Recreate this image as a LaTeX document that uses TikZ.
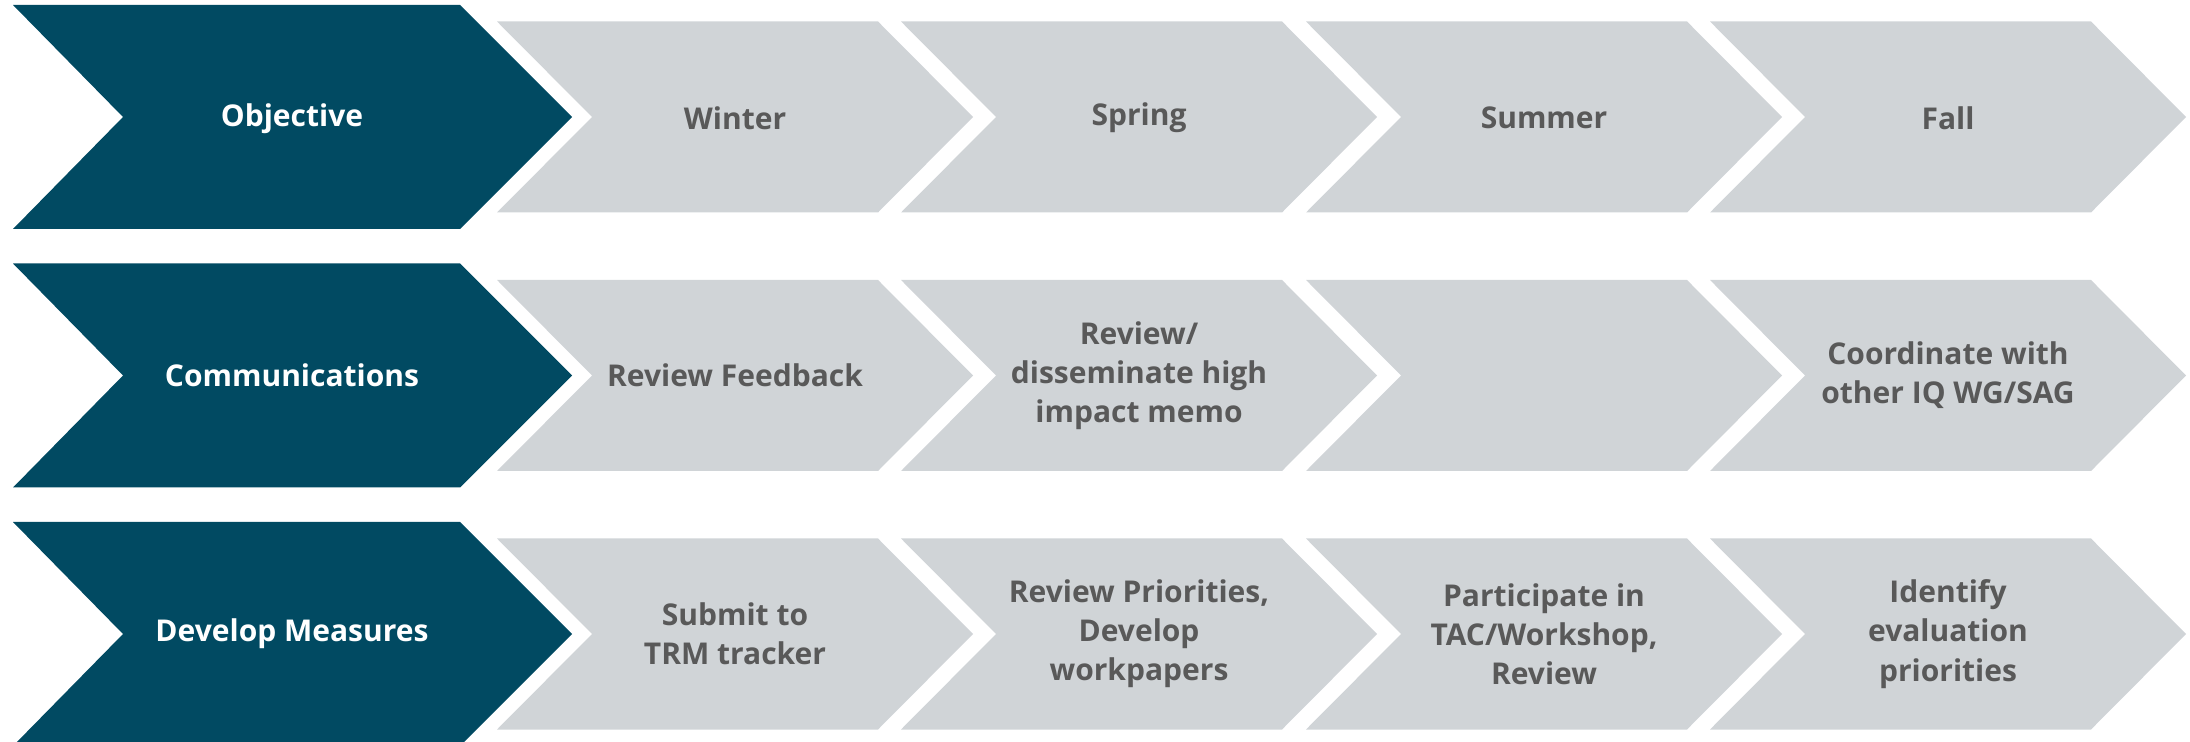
\documentclass[tikz,border=0pt]{standalone}
\usepackage{fontspec}
\setmainfont{Open Sans}

\definecolor{deepteal}{RGB}{1,74,98}
\definecolor{chevgrey}{RGB}{208,212,215}
\definecolor{labelgrey}{RGB}{89,89,89}

% #1 = centre y of the row
\newcommand{\leadchev}[1]{%
  \fill[deepteal] (13,#1-112) -- (460,#1-112) -- (572,#1) -- (460,#1+112)
    -- (13,#1+112) -- (123,#1) -- cycle;}
% #1 = left x, #2 = centre y of the row
\newcommand{\phasechev}[2]{%
  \fill[chevgrey] (#1,#2-95.5) -- ++(381,0) -- ++(95,95.5) -- ++(-95,95.5)
    -- ++(-381,0) -- ++(95,-95.5) -- cycle;}

\begin{document}
\begin{tikzpicture}[x=0.5pt, y=-0.5pt,
                    lead/.style={text=white, align=center,
                                 font=\bfseries\fontsize{15}{19.6}\selectfont},
                    phase/.style={text=labelgrey, align=center,
                                  font=\bfseries\fontsize{15}{19.6}\selectfont}]
	\useasboundingbox (0,0) rectangle (2190,742);

	\leadchev{117}
	\leadchev{375.5}
	\leadchev{634}
	\foreach \cx in {497,901,1306,1710}
		\foreach \cy in {117,375.5,634}
			\phasechev{\cx}{\cy};

	\node[lead] (obj) at (292, 119) {Objective};
	\node[phase] (win) at (735, 118) {Winter};
	\node[phase] (spr) at (1139, 118) {Spring};
	\node[phase] (sum) at (1544, 118) {Summer};
	\node[phase] (fal) at (1948, 118) {Fall};

	\node[lead] (com) at (292, 375.5) {Communications};
	\node[phase] (comwin) at (735, 375.5) {Review Feedback};
	\node[phase] (comspr) at (1139, 375.5) {Review/\\disseminate high\\impact memo};
	\node[phase] (comfal) at (1948, 375.5) {Coordinate with\\other IQ WG/SAG};

	\node[lead] (dev) at (292, 634) {Develop Measures};
	\node[phase] (devwin) at (735, 634) {Submit to\\TRM tracker};
	\node[phase] (devspr) at (1139, 634) {Review Priorities,\\Develop\\workpapers};
	\node[phase] (devsum) at (1544, 634) {Participate in\\TAC/Workshop,\\Review};
	\node[phase] (devfal) at (1948, 634) {Identify\\evaluation\\priorities};

\end{tikzpicture}
\end{document}
